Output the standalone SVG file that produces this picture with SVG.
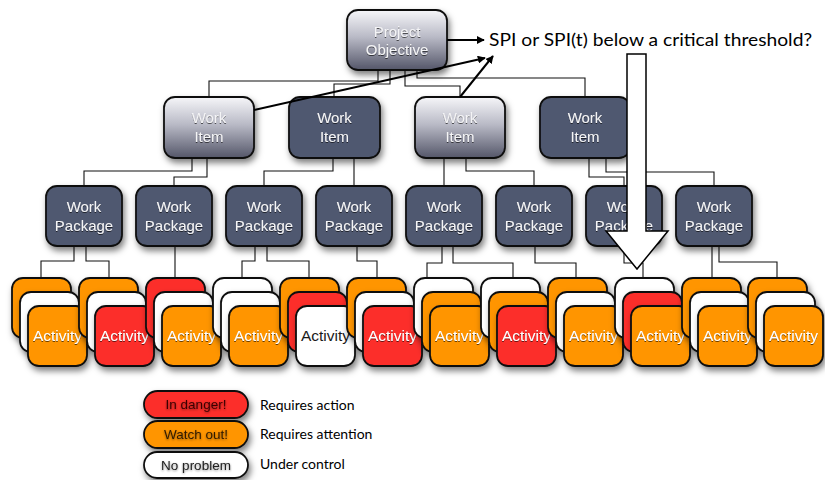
<svg xmlns="http://www.w3.org/2000/svg" width="825" height="480" viewBox="0 0 825 480">
<defs>
<linearGradient id="grad" x1="0" y1="0" x2="0" y2="1">
<stop offset="0" stop-color="#f6f6f9"/>
<stop offset="0.45" stop-color="#b9bac6"/>
<stop offset="1" stop-color="#545669"/>
</linearGradient>
<filter id="sh" x="-20%" y="-20%" width="150%" height="150%">
<feDropShadow dx="2" dy="4" stdDeviation="3" flood-color="#000" flood-opacity="0.5"/>
</filter>
<filter id="tsh" x="-10%" y="-30%" width="120%" height="160%">
<feDropShadow dx="0" dy="1" stdDeviation="0.7" flood-color="#000" flood-opacity="0.6"/>
</filter>
<filter id="glow" x="-10%" y="-30%" width="120%" height="160%">
<feDropShadow dx="0" dy="1" stdDeviation="1.2" flood-color="#000" flood-opacity="0.45"/>
</filter>
<marker id="ah" viewBox="0 0 10 10" refX="9" refY="5" markerWidth="8" markerHeight="8" markerUnits="userSpaceOnUse" orient="auto">
<path d="M0,0 L10,5 L0,10 z" fill="#000"/>
</marker>
</defs>
<style>
.box{stroke:#111;stroke-width:1.8;filter:url(#sh)}
.slate{fill:#4f586f}
.gr{fill:url(#grad)}
.o{fill:#ff9500;stroke:#111;stroke-width:1.8;filter:url(#sh)}
.r{fill:#fc2f2b;stroke:#111;stroke-width:1.8;filter:url(#sh)}
.w{fill:#ffffff;stroke:#111;stroke-width:1.8;filter:url(#sh)}
.t{font-family:"Liberation Sans",Arial,sans-serif;font-size:15px;fill:#f4f4f6;text-anchor:middle;filter:url(#tsh)}
.ta{font-family:"Liberation Sans",Arial,sans-serif;font-size:15.5px;fill:#fff;text-anchor:middle;filter:url(#tsh)}
.td{font-family:"Liberation Sans",Arial,sans-serif;font-size:15.5px;fill:#1a1a1a;text-anchor:middle}
.conn{fill:none;stroke:#111;stroke-width:1.1}
.arr{fill:none;stroke:#000;stroke-width:2}
.lab{font-family:Lato,"Open Sans",sans-serif;font-size:14px;fill:#000}
.pt{font-family:"Liberation Sans",Arial,sans-serif;font-size:13.5px;text-anchor:middle;filter:url(#glow)}
</style>
<rect width="825" height="480" fill="#fff"/>

<g id="connectors">
<path class="conn" d="M378 70V81H209V97M390 70V84H334V97M405 70V86H460V97M417 70V78H585V97"/>
<path class="conn" d="M192 158V171H84V186M207 158V177H174V186M333 158V171H264V186M354 158V186M444 158V186M466 158V171H534V186M589 158V177H624V186M606 158V172H714V186"/>
<path class="conn" d="M74 246V261H41V278M86 246V261H109V278M175 246V278M255 246V261H242V278M267 246V261H309V278M357 246V261H377V278M442 246V263H427V278M453 246V263H513V278M535 246V263H576V278M624 246V263H643V278M712 246V278M719 246V262H777V278"/>
</g>

<g id="project-objective">
<rect class="box gr" x="347" y="10" width="100" height="60" rx="11"/>
<text class="t" x="397" y="37" font-size="14">Project</text>
<text class="t" x="397" y="55" font-size="14">Objective</text>
</g>

<g id="work-item-1"><rect class="box gr" x="164" y="97" width="90" height="61" rx="11"/><text class="t" x="209" y="123">Work</text><text class="t" x="209" y="142">Item</text></g>
<g id="work-item-2"><rect class="box slate" x="289" y="97" width="91" height="61" rx="11"/><text class="t" x="334.5" y="123">Work</text><text class="t" x="334.5" y="142">Item</text></g>
<g id="work-item-3"><rect class="box gr" x="415" y="97" width="90" height="61" rx="11"/><text class="t" x="460" y="123">Work</text><text class="t" x="460" y="142">Item</text></g>
<g id="work-item-4"><rect class="box slate" x="540" y="97" width="90" height="61" rx="11"/><text class="t" x="585" y="123">Work</text><text class="t" x="585" y="142">Item</text></g>

<g id="work-package-1"><rect class="box slate" x="46" y="186" width="76" height="60" rx="11"/><text class="t" x="84" y="212">Work</text><text class="t" x="84" y="231">Package</text></g>
<g id="work-package-2"><rect class="box slate" x="136" y="186" width="76" height="60" rx="11"/><text class="t" x="174" y="212">Work</text><text class="t" x="174" y="231">Package</text></g>
<g id="work-package-3"><rect class="box slate" x="226" y="186" width="76" height="60" rx="11"/><text class="t" x="264" y="212">Work</text><text class="t" x="264" y="231">Package</text></g>
<g id="work-package-4"><rect class="box slate" x="316" y="186" width="76" height="60" rx="11"/><text class="t" x="354" y="212">Work</text><text class="t" x="354" y="231">Package</text></g>
<g id="work-package-5"><rect class="box slate" x="406" y="186" width="76" height="60" rx="11"/><text class="t" x="444" y="212">Work</text><text class="t" x="444" y="231">Package</text></g>
<g id="work-package-6"><rect class="box slate" x="496" y="186" width="76" height="60" rx="11"/><text class="t" x="534" y="212">Work</text><text class="t" x="534" y="231">Package</text></g>
<g id="work-package-7"><rect class="box slate" x="586" y="186" width="76" height="60" rx="11"/><text class="t" x="624" y="212">Work</text><text class="t" x="624" y="231">Package</text></g>
<g id="work-package-8"><rect class="box slate" x="676" y="186" width="76" height="60" rx="11"/><text class="t" x="714" y="212">Work</text><text class="t" x="714" y="231">Package</text></g>

<g id="activity-stack-1"><rect class="o" x="12" y="278" width="59" height="60" rx="11"/><rect class="w" x="20" y="292" width="59" height="60" rx="11"/><rect class="o" x="28" y="306" width="59" height="60" rx="11"/><text class="ta" x="57.5" y="341">Activity</text></g>
<g id="activity-stack-2"><rect class="o" x="79" y="278" width="59" height="60" rx="11"/><rect class="w" x="87" y="292" width="59" height="60" rx="11"/><rect class="r" x="95" y="306" width="59" height="60" rx="11"/><text class="ta" x="124.5" y="341">Activity</text></g>
<g id="activity-stack-3"><rect class="r" x="146" y="278" width="59" height="60" rx="11"/><rect class="w" x="154" y="292" width="59" height="60" rx="11"/><rect class="o" x="162" y="306" width="59" height="60" rx="11"/><text class="ta" x="191.5" y="341">Activity</text></g>
<g id="activity-stack-4"><rect class="w" x="213" y="278" width="59" height="60" rx="11"/><rect class="w" x="221" y="292" width="59" height="60" rx="11"/><rect class="o" x="229" y="306" width="59" height="60" rx="11"/><text class="ta" x="258.5" y="341">Activity</text></g>
<g id="activity-stack-5"><rect class="o" x="280" y="278" width="59" height="60" rx="11"/><rect class="r" x="288" y="292" width="59" height="60" rx="11"/><rect class="w" x="296" y="306" width="59" height="60" rx="11"/><text class="td" x="325.5" y="341">Activity</text></g>
<g id="activity-stack-6"><rect class="o" x="347" y="278" width="59" height="60" rx="11"/><rect class="w" x="355" y="292" width="59" height="60" rx="11"/><rect class="r" x="363" y="306" width="59" height="60" rx="11"/><text class="ta" x="392.5" y="341">Activity</text></g>
<g id="activity-stack-7"><rect class="w" x="414" y="278" width="59" height="60" rx="11"/><rect class="o" x="422" y="292" width="59" height="60" rx="11"/><rect class="o" x="430" y="306" width="59" height="60" rx="11"/><text class="ta" x="459.5" y="341">Activity</text></g>
<g id="activity-stack-8"><rect class="w" x="481" y="278" width="59" height="60" rx="11"/><rect class="o" x="489" y="292" width="59" height="60" rx="11"/><rect class="r" x="497" y="306" width="59" height="60" rx="11"/><text class="ta" x="526.5" y="341">Activity</text></g>
<g id="activity-stack-9"><rect class="o" x="548" y="278" width="59" height="60" rx="11"/><rect class="w" x="556" y="292" width="59" height="60" rx="11"/><rect class="o" x="564" y="306" width="59" height="60" rx="11"/><text class="ta" x="593.5" y="341">Activity</text></g>
<g id="activity-stack-10"><rect class="w" x="615" y="278" width="59" height="60" rx="11"/><rect class="r" x="623" y="292" width="59" height="60" rx="11"/><rect class="o" x="631" y="306" width="59" height="60" rx="11"/><text class="ta" x="660.5" y="341">Activity</text></g>
<g id="activity-stack-11"><rect class="o" x="682" y="278" width="59" height="60" rx="11"/><rect class="w" x="690" y="292" width="59" height="60" rx="11"/><rect class="o" x="698" y="306" width="59" height="60" rx="11"/><text class="ta" x="727.5" y="341">Activity</text></g>
<g id="activity-stack-12"><rect class="o" x="748" y="278" width="59" height="60" rx="11"/><rect class="w" x="756" y="292" width="59" height="60" rx="11"/><rect class="o" x="764" y="306" width="59" height="60" rx="11"/><text class="ta" x="793.5" y="341">Activity</text></g>

<g id="arrows">
<path class="arr" d="M447 40H484" marker-end="url(#ah)"/>
<path class="arr" d="M254 110L485 58" marker-end="url(#ah)"/>
<path class="arr" d="M460 97L493 56" marker-end="url(#ah)"/>
<polygon points="627,54 646,54 646,231 668,231 637,269 606,231 627,231" fill="#fff" stroke="#000" stroke-width="1.5" stroke-linejoin="miter"/>
</g>

<g id="question">
<text x="489" y="46" font-family="Lato,'Open Sans',sans-serif" font-size="17" textLength="323" lengthAdjust="spacingAndGlyphs" fill="#000">SPI or SPI(t) below a critical threshold?</text>
</g>

<g id="legend">
<rect class="r" x="144" y="391" width="104" height="27" rx="13.5"/>
<text class="pt" x="196" y="409" fill="#3a0606">In danger!</text>
<text class="lab" x="260" y="410">Requires action</text>
<rect class="o" x="144" y="421" width="104" height="27" rx="13.5"/>
<text class="pt" x="196" y="439" fill="#2e1a00">Watch out!</text>
<text class="lab" x="260" y="439">Requires attention</text>
<rect class="w" x="144" y="452" width="104" height="26" rx="13"/>
<text class="pt" x="196" y="470" fill="#222">No problem</text>
<text class="lab" x="260" y="469">Under control</text>
</g>
</svg>
